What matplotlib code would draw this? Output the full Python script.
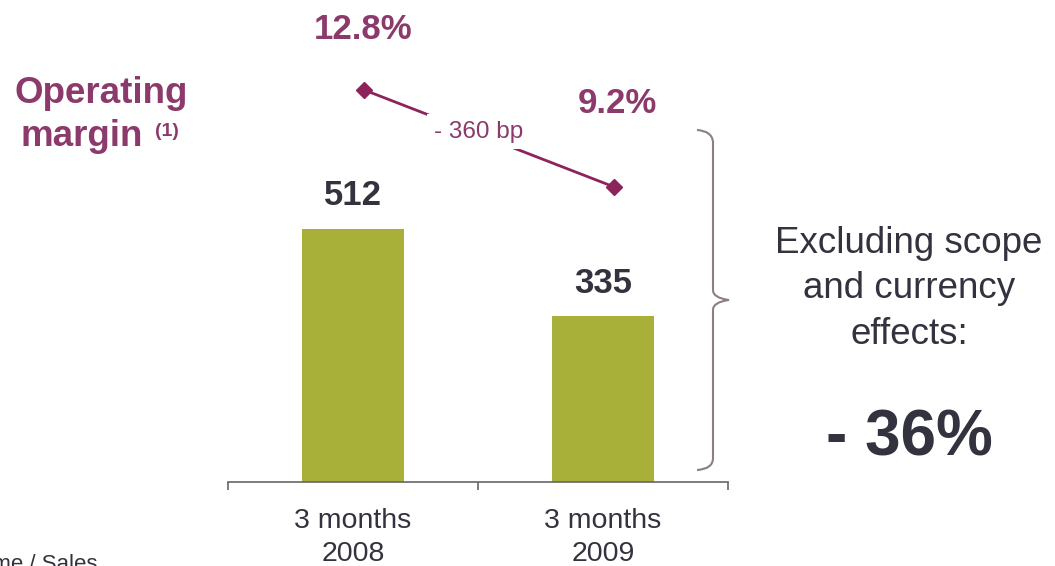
import matplotlib.pyplot as plt
from matplotlib.path import Path
from matplotlib.patches import PathPatch

plt.rcParams['font.family'] = ['Liberation Sans', 'DejaVu Sans']

periods = ['3 months\n2008', '3 months\n2009']
operating_income = [512, 335]
margin_pct = [12.8, 9.2]
margin_change = '- 360 bp'
organic_change = '- 36%'

bar_color = '#a8b03a'
purple = '#8b3a6b'
line_purple = '#8c2459'
dark = '#33333f'

fig = plt.figure(figsize=(10.55, 5.66), dpi=100)
W, H = 1055, 566
ax = fig.add_axes([228 / W, 84 / H, 500 / W, 482 / H])

x = list(range(len(periods)))
ax.bar(x, operating_income, width=0.41, color=bar_color, zorder=2)
ax.set_xlim(-0.5, 1.5)
ax.set_ylim(0, 975)

for xi, v in zip(x, operating_income):
    ax.annotate(str(v), (xi, v), xytext=(0, 12), textcoords='offset points',
                ha='center', va='bottom', fontsize=25, fontweight='bold', color=dark)

# axis: only the baseline with separators between periods
for s in ['top', 'right', 'left']:
    ax.spines[s].set_visible(False)
ax.spines['bottom'].set_color('#666666')
ax.spines['bottom'].set_linewidth(1.2)
ax.set_yticks([])
ax.set_xticks([-0.5, 0.5, 1.5])
ax.set_xticklabels([])
ax.tick_params(axis='x', which='major', direction='out', length=6, color='#666666', width=1.2)
ax.set_xticks(x, minor=True)
ax.set_xticklabels(periods, minor=True, fontsize=20.5, color=dark, linespacing=1.35)
ax.tick_params(axis='x', which='minor', length=0, pad=19)

# operating margin line on its own scale
ax2 = ax.twinx()
ax2.set_ylim(-1.75, 16.14)
ax2.axis('off')
mx = [xi + 0.045 for xi in x]
ax2.plot(mx, margin_pct, color=line_purple, lw=2, marker='D', markersize=8,
         clip_on=False, zorder=3)
ax2.annotate(f'{margin_pct[0]}%', (mx[0], margin_pct[0]), xytext=(-1, 32),
             textcoords='offset points', ha='center', va='bottom',
             fontsize=25, fontweight='bold', color=purple, annotation_clip=False)
ax2.annotate(f'{margin_pct[1]}%', (mx[1], margin_pct[1]), xytext=(2, 48),
             textcoords='offset points', ha='center', va='bottom',
             fontsize=25, fontweight='bold', color=purple, annotation_clip=False)
mid = ((mx[0] + mx[1]) / 2, (margin_pct[0] + margin_pct[1]) / 2)
ax2.annotate(margin_change, mid, xytext=(-8, 5), textcoords='offset points',
             ha='center', va='center', fontsize=17.5, color=purple,
             bbox=dict(boxstyle='square,pad=0.25', fc='white', ec='none'), zorder=4)

fig.text(101 / W, 1 - 93 / H, 'Operating', ha='center', va='center',
         fontsize=26.5, fontweight='bold', color=purple)
fig.text(82 / W, 1 - 137 / H, 'margin', ha='center', va='center',
         fontsize=26.5, fontweight='bold', color=purple)
fig.text(155 / W, 1 - 131 / H, '(1)', ha='left', va='center',
         fontsize=14, fontweight='bold', color=purple)

# curly brace to the right of the bars
def px(xp, yp):
    return (xp / W, 1 - yp / H)

verts = [px(697, 130), px(712, 131), px(713, 142), px(713, 150),
         px(713, 290), px(713, 298), px(729, 300),
         px(713, 302), px(713, 310), px(713, 318),
         px(713, 458), px(713, 469), px(697, 470)]
codes = [Path.MOVETO, Path.CURVE3, Path.CURVE3, Path.LINETO,
         Path.LINETO, Path.CURVE3, Path.CURVE3,
         Path.CURVE3, Path.CURVE3, Path.LINETO,
         Path.LINETO, Path.CURVE3, Path.CURVE3]
fig.patches.append(PathPatch(Path(verts, codes), transform=fig.transFigure,
                             fill=False, ec='#8c7f7f', lw=1.5))

fig.text(909 / W, 1 - 289 / H, 'Excluding scope\nand currency\neffects:',
         ha='center', va='center', fontsize=26.5, color=dark, linespacing=1.4)
fig.text(909 / W, 1 - 438 / H, organic_change, ha='center', va='center',
         fontsize=46, fontweight='bold', color=dark)

fig.text(98 / W, 1 - 554 / H, '(1) Operating income / Sales', ha='right', va='top',
         fontsize=16, color=dark)

fig.savefig('out.png', dpi=100)
